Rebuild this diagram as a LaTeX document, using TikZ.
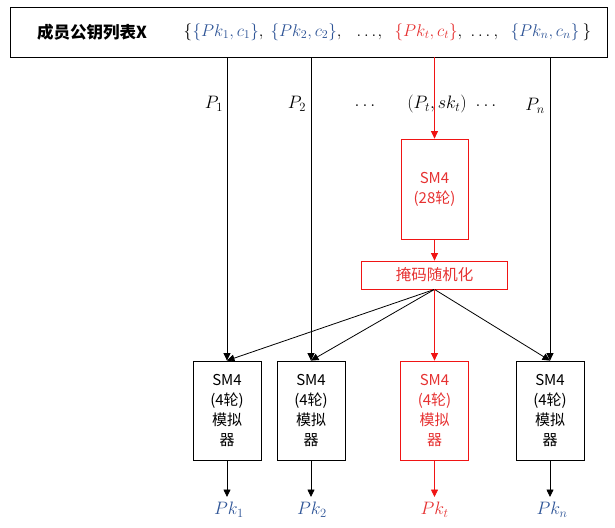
\RequirePackage{fix-cm}
\documentclass[tikz,border=0pt]{standalone}
\usepackage{fontspec}
\newfontfamily\cjk{Noto Sans CJK SC}
\usetikzlibrary{arrows.meta}
\definecolor{myblue}{RGB}{47,85,151}
\definecolor{myred}{RGB}{240,20,20}
\definecolor{tred}{RGB}{230,50,50}
\newcommand{\at}[2]{\rlap{\kern#1pt#2}}
\tikzset{
  arr/.style={-{Triangle[width=7pt,length=7.5pt]}, line width=0.8pt},
  blk/.style={draw, line width=0.8pt, minimum width=68pt, minimum height=99pt, align=center, font=\cjk\fontsize{15}{19.8}\selectfont, inner sep=0pt},
  lbl/.style={font=\fontsize{18}{21}\selectfont, inner sep=0pt}
}
\begin{document}
\begin{tikzpicture}[x=1pt,y=-1pt]
\useasboundingbox (0,0) rectangle (615,527);
\node[draw, line width=0.8pt, minimum width=597pt, minimum height=50pt, inner sep=0pt] (top) at (308.5,32) {};
\node[font=\cjk\bfseries\fontsize{16.5}{19}\selectfont, anchor=west, inner sep=0pt] (hdr) at (37,32) {成员公钥列表X};
\node[font=\fontsize{17}{20}\selectfont, inner sep=0pt, anchor=west] (set) at (183,32) {\at{0}{$\{$}\at{9}{$\color{myblue}\{Pk_1,c_1\}$$,$}\at{87}{$\color{myblue}\{Pk_2,c_2\}$$,$}\at{173}{$\ldots$}\at{194}{$,$}\at{211}{$\color{tred}\{Pk_t,c_t\}$$,$}\at{287}{$\ldots$}\at{310}{$,$}\at{327}{$\color{myblue}\{Pk_n,c_n\}$}\at{399}{$\}$}};
% SM4 28 rounds and mask
\node[blk, draw=myred, text=tred, minimum width=67pt, minimum height=100pt] (sm) at (434.5,189) {SM4\\(28轮)};
\node[draw=myred, line width=0.8pt, minimum width=146pt, minimum height=28pt, inner sep=0pt, text=tred, font=\cjk\fontsize{15.5}{18}\selectfont] (mask) at (434.5,275) {掩码随机化};
% bottom boxes
\node[blk] (b1) at (227,410.5) {SM4\\(4轮)\\模拟\\器};
\node[blk] (b2) at (311,410.5) {SM4\\(4轮)\\模拟\\器};
\node[blk, draw=myred, text=tred] (bt) at (434.5,410.5) {SM4\\(4轮)\\模拟\\器};
\node[blk] (bn) at (550,410.5) {SM4\\(4轮)\\模拟\\器};
% labels
\node[lbl] (p1) at (214,104) {$P_1$};
\node[lbl] (p2) at (297,104) {$P_2$};
\node[lbl] (d1) at (365,106) {$\ldots$};
\node[lbl] (pt) at (437,104) {$(P_t,sk_t)$};
\node[lbl] (d2) at (486,106) {$\ldots$};
\node[lbl] (pn) at (535,106) {$P_n$};
% outputs
\node[lbl, text=myblue] (o1) at (229,510) {$Pk_1$};
\node[lbl, text=myblue] (o2) at (312,510) {$Pk_2$};
\node[lbl, text=tred] (ot) at (434.5,510) {$Pk_t$};
\node[lbl, text=myblue] (on) at (552,510) {$Pk_n$};
\coordinate (e1) at (227,497);
\coordinate (e2) at (311,497);
\coordinate (et) at (434.5,497);
\coordinate (en) at (550,497);
% connectors
\draw[arr] (top.south -| b1) -- (b1.north);
\draw[arr] (top.south -| b2) -- (b2.north);
\draw[arr] (top.south -| bn) -- (bn.north);
\draw[arr, myred] (top.south -| sm) -- (sm.north);
\draw[arr, myred] (sm.south) -- (mask.north);
\draw[arr] (mask.south) -- (b1.north);
\draw[arr] (mask.south) -- (b2.north);
\draw[arr] (mask.south) -- (bn.north);
\draw[arr, myred] (mask.south) -- (bt.north);
\draw[arr] (b1.south) -- (e1);
\draw[arr] (b2.south) -- (e2);
\draw[arr, myred] (bt.south) -- (et);
\draw[arr] (bn.south) -- (en);
\end{tikzpicture}
\end{document}
